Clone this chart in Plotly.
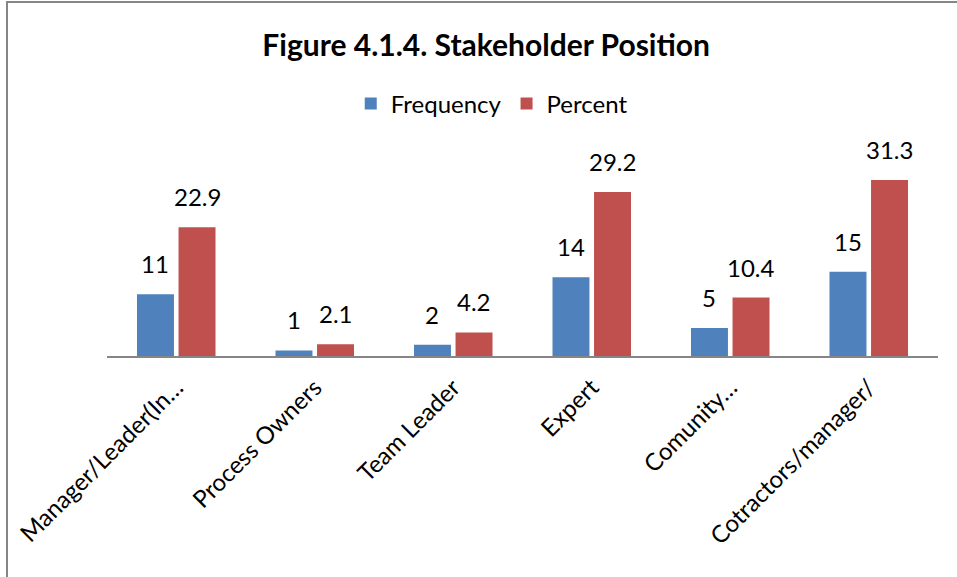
import plotly.graph_objects as go

categories = ["Manager/Leader(In…", "Process Owners", "Team Leader", "Expert", "Comunity…", "Cotractors/manager/"]
frequency = [11, 1, 2, 14, 5, 15]
percent = [22.9, 2.1, 4.2, 29.2, 10.4, 31.3]

FONT = "Lato"
W, H = 957, 577
ML, MR, MT, MB = 107, 19, 130, 221
PW = W - ML - MR
PH = H - MT - MB
BARGAP = 0.40
SLOT = PW / len(categories) * (1 - BARGAP) / 2

fig = go.Figure()
fig.add_trace(go.Bar(x=categories, y=frequency, name="Frequency",
                     marker=dict(color="#4F81BD", line=dict(width=0))))
fig.add_trace(go.Bar(x=categories, y=percent, name="Percent",
                     marker=dict(color="#C0504D", line=dict(width=0))))

annotations = []
for series, shift, fmt in ((frequency, -SLOT / 2, "{}"), (percent, SLOT / 2, "{:.1f}")):
    for c, v in zip(categories, series):
        annotations.append(dict(x=c, y=v, xref="x", yref="y", text=fmt.format(v),
                                showarrow=False, xanchor="center", yanchor="bottom",
                                xshift=shift, yshift=14,
                                font=dict(size=24, family=FONT, color="black")))

ymax = PH / 5.62

fig.update_layout(
    width=W, height=H,
    margin=dict(l=ML, r=MR, t=MT, b=MB, autoexpand=False),
    paper_bgcolor="white", plot_bgcolor="white",
    font=dict(family=FONT, color="black"),
    title=dict(text="<b>Figure 4.1.4. Stakeholder Position</b>", x=0.508, xanchor="center",
               y=1 - 45 / H, yanchor="middle", font=dict(size=30, family=FONT)),
    legend=dict(orientation="h", x=0.463, xanchor="center", y=1 - 104 / H, yref="container",
                yanchor="middle", font=dict(size=24, family=FONT), itemwidth=30,
                traceorder="normal"),
    barmode="group", bargap=BARGAP, bargroupgap=0.11,
    showlegend=True,
    annotations=annotations,
    xaxis=dict(showline=True, linecolor="#868686", linewidth=2, ticks="", tickangle=-45,
               tickfont=dict(size=24, family=FONT), showgrid=False, zeroline=False,
               ticklabelstandoff=6),
    yaxis=dict(range=[0, ymax], visible=False, showgrid=False, zeroline=False),
    shapes=[dict(type="rect", xref="paper", yref="paper",
                 x0=(7 - ML) / PW, x1=(965 - ML) / PW,
                 y0=(H - MB - 590) / PH, y1=(H - MB - 2) / PH,
                 line=dict(color="#868686", width=2), fillcolor="rgba(0,0,0,0)", layer="below")],
)

fig.write_html("out.html", config={"displayModeBar": False},
               post_script="document.body.style.margin='0px';document.body.style.overflow='hidden';")
